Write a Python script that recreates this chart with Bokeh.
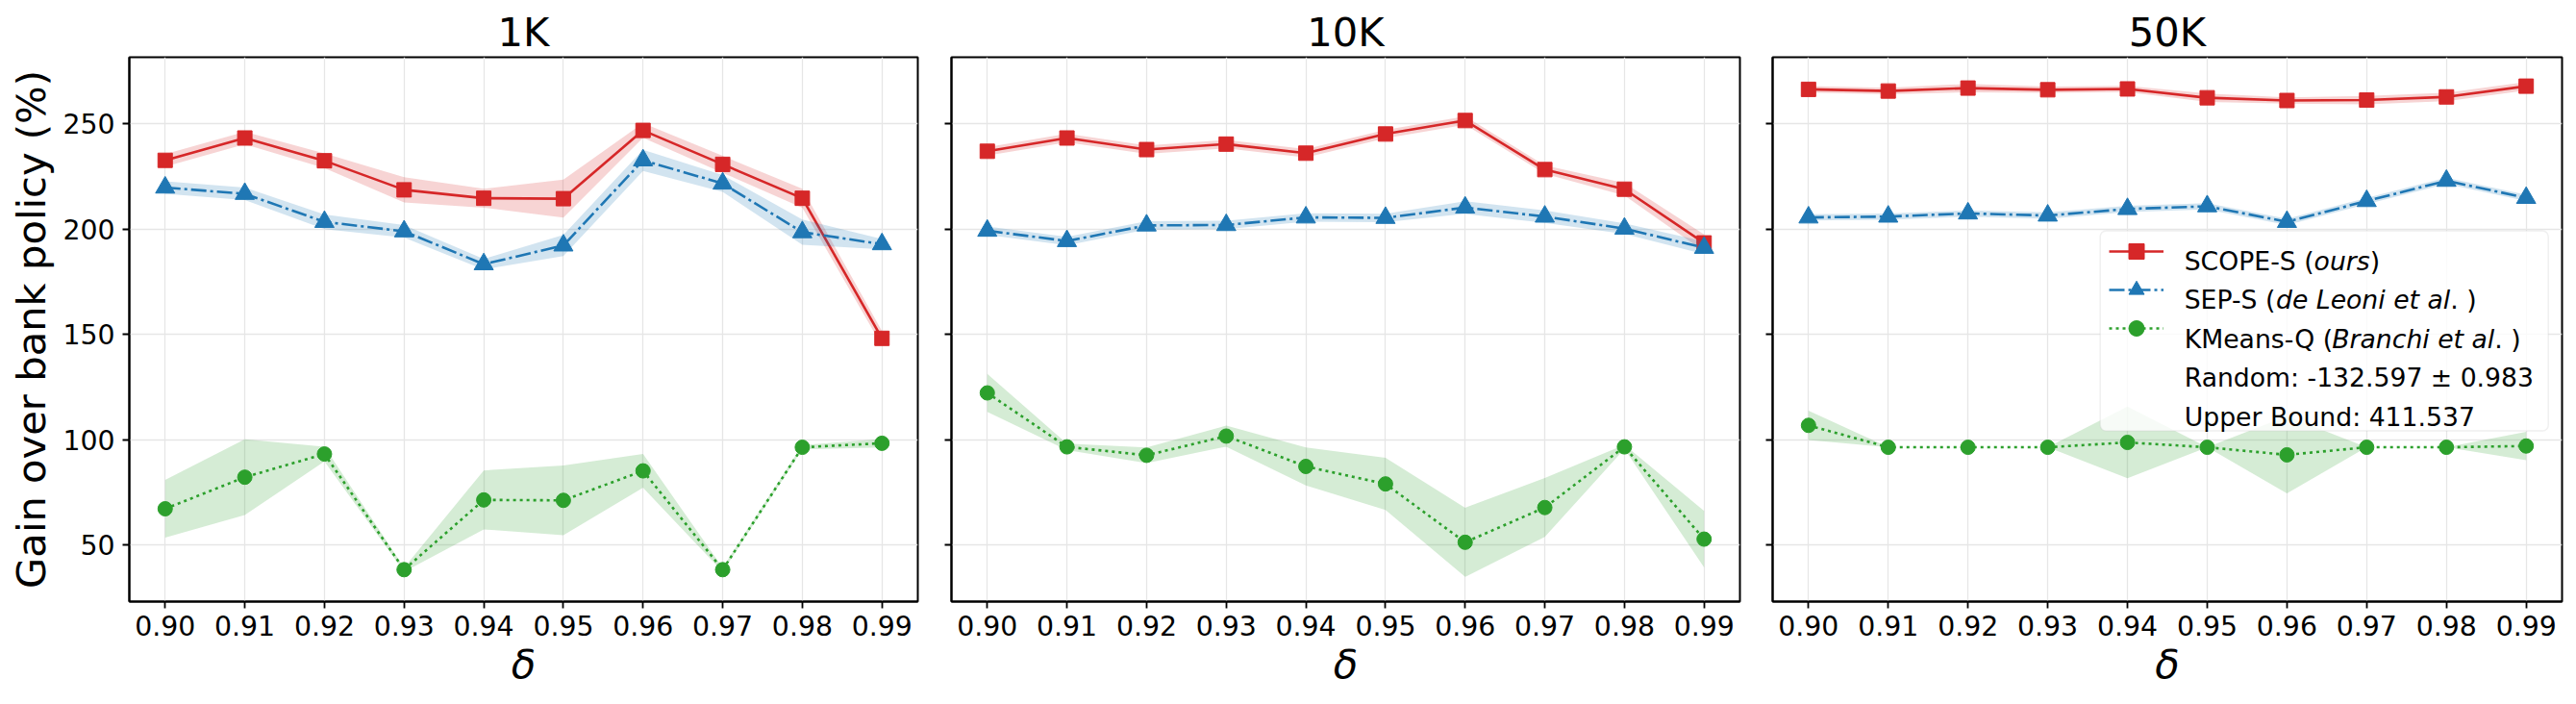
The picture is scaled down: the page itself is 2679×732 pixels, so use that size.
from bokeh.plotting import figure
from bokeh.layouts import row
from bokeh.models import (Range1d, FixedTicker, NumeralTickFormatter, Legend, LegendItem,
                          Label, BoxAnnotation, ColumnDataSource)
from bokeh.embed import file_html
from bokeh.resources import INLINE

# ---------------- data ----------------
delta = [0.90, 0.91, 0.92, 0.93, 0.94, 0.95, 0.96, 0.97, 0.98, 0.99]
panel_titles = ["1K", "10K", "50K"]
yticks = [50, 100, 150, 200, 250]

scope_1k = [232.6, 243.2, 232.4, 218.6, 214.6, 214.4, 246.8, 230.7, 214.6, 148.1]
scope_1k_err = [3.0, 3.0, 3.5, 6.0, 4.5, 9.0, 3.5, 4.0, 4.5, 3.5]
sep_1k = [219.7, 216.7, 203.4, 198.9, 183.3, 192.2, 232.6, 221.6, 198.5, 192.8]
sep_1k_err = [3.0, 3.0, 3.5, 3.0, 2.5, 5.0, 5.0, 4.0, 6.0, 2.5]
kmeans_1k = [67.2, 82.2, 93.2, 38.3, 71.4, 71.2, 85.2, 38.3, 96.4, 98.3]
kmeans_1k_err = [13.7, 18.0, 3.5, 1.0, 14.0, 16.6, 8.0, 1.0, 1.0, 2.0]

scope_10k = [236.9, 243.2, 237.7, 240.3, 236.0, 245.1, 251.5, 228.2, 218.9, 193.4]
scope_10k_err = [2.0, 2.0, 2.0, 2.0, 2.0, 2.0, 2.0, 2.0, 3.0, 4.0]
sep_10k = [199.2, 194.3, 201.7, 201.9, 205.5, 205.3, 210.2, 205.9, 200.2, 191.1]
sep_10k_err = [2.0, 2.0, 2.0, 2.0, 2.0, 2.0, 3.0, 3.0, 2.5, 3.0]
kmeans_10k = [122.2, 96.6, 92.6, 101.7, 87.3, 79.0, 51.3, 67.8, 96.6, 52.8]
kmeans_10k_err = [9.0, 1.5, 3.7, 5.0, 9.0, 12.4, 16.4, 14.0, 1.0, 13.4]

scope_50k = [266.3, 265.5, 266.9, 266.1, 266.5, 262.3, 261.0, 261.2, 262.7, 267.8]
scope_50k_err = [1.5, 1.5, 2.0, 1.5, 1.5, 2.0, 1.5, 2.0, 2.0, 2.0]
sep_50k = [205.5, 205.9, 207.4, 206.4, 209.5, 210.8, 203.4, 213.3, 222.9, 214.8]
sep_50k_err = [1.5, 1.5, 1.5, 1.5, 1.5, 1.5, 1.5, 1.5, 1.5, 1.5]
kmeans_50k = [106.8, 96.4, 96.4, 96.4, 98.7, 96.4, 92.8, 96.4, 96.4, 97.0]
kmeans_50k_err = [7.0, 0.0, 0.0, 0.0, 17.0, 0.0, 18.3, 0.0, 0.0, 6.7]

legend_rows = [
    [("SCOPE-S (", False), ("ours", True), (")", False)],
    [("SEP-S (", False), ("de Leoni et al", True), (". )", False)],
    [("KMeans-Q (", False), ("Branchi et al", True), (". )", False)],
    [("Random: -132.597 \u00b1 0.983", False)],
    [("Upper Bound: 411.537", False)],
]

panel_data = [
    [(scope_1k, scope_1k_err), (sep_1k, sep_1k_err), (kmeans_1k, kmeans_1k_err)],
    [(scope_10k, scope_10k_err), (sep_10k, sep_10k_err), (kmeans_10k, kmeans_10k_err)],
    [(scope_50k, scope_50k_err), (sep_50k, sep_50k_err), (kmeans_50k, kmeans_50k_err)],
]

# ---------------- style ----------------
FONT = "DejaVu Sans"
BIG = "41.67px"
series_style = [
    dict(color="#d62728", dash="solid", marker="square", size=15),
    dict(color="#1f77b4", dash="16 4 3 4", marker="triangle", size=20),
    dict(color="#2ca02c", dash="3 4", marker="circle", size=15),
]

# ranges like matplotlib autoscale (5 % margins)
all_lo = min(m - e for pd_ in panel_data for (ms, es) in pd_ for m, e in zip(ms, es))
all_hi = max(m + e for pd_ in panel_data for (ms, es) in pd_ for m, e in zip(ms, es))
ypad = 0.05 * (all_hi - all_lo)
xpad = 0.05 * (max(delta) - min(delta))

# DejaVu Sans advance widths (units / 2048)
W = {' ': 651, '(': 799, ')': 799, '-': 739, '.': 651, ':': 690, '\u00b1': 1716,
     'A': 1401, 'B': 1405, 'C': 1430, 'D': 1577, 'E': 1294, 'G': 1577, 'K': 1343, 'L': 1141,
     'M': 1767, 'O': 1612, 'P': 1235, 'Q': 1612, 'R': 1423, 'S': 1300, 'U': 1499,
     'a': 1255, 'b': 1300, 'c': 1126, 'd': 1300, 'e': 1260, 'h': 1298, 'i': 569, 'k': 1186,
     'l': 569, 'm': 1995, 'n': 1298, 'o': 1253, 'p': 1300, 'r': 842, 's': 1067, 't': 803,
     'u': 1298, 'v': 1212, 'y': 1212}
for d in "0123456789":
    W[d] = 1303


def text_w(s, px):
    return sum(W.get(ch, 1250) for ch in s) / 2048.0 * px


layout_specs = [
    dict(left=134, right=17, fw=820),
    dict(left=18, right=17, fw=820),
    dict(left=17, right=10, fw=821),
]

figs = []
for i, title in enumerate(panel_titles):
    spec = layout_specs[i]
    p = figure(frame_width=spec["fw"], frame_height=566,
               min_border_left=spec["left"], min_border_right=spec["right"],
               min_border_top=59, min_border_bottom=105,
               x_range=Range1d(min(delta) - xpad, max(delta) + xpad),
               y_range=Range1d(all_lo - ypad, all_hi + ypad),
               output_backend="svg", toolbar_location=None, title=title)
    p.background_fill_color = "white"
    p.border_fill_color = "white"
    p.outline_line_color = "black"
    p.outline_line_width = 2
    p.outline_line_alpha = 1.0

    p.title.text_font = FONT
    p.title.text_font_size = BIG
    p.title.text_font_style = "normal"
    p.title.text_color = "black"
    p.title.align = "center"
    p.title.standoff = 3

    p.xaxis.ticker = FixedTicker(ticks=delta)
    p.xaxis.formatter = NumeralTickFormatter(format="0.00")
    p.yaxis.ticker = FixedTicker(ticks=yticks)
    for ax in (p.xaxis[0], p.yaxis[0]):
        ax.axis_line_color = "black"
        ax.axis_line_width = 2
        ax.major_tick_line_color = "black"
        ax.major_tick_line_width = 1.8
        ax.major_tick_out = 7
        ax.major_tick_in = 0
        ax.minor_tick_line_color = None
        ax.major_label_text_font = FONT
        ax.major_label_text_font_size = "28.33px"
        ax.major_label_text_color = "black"
        ax.axis_label_text_font = FONT
        ax.axis_label_text_color = "black"
    p.xaxis.major_label_standoff = 7
    p.yaxis.major_label_standoff = 8
    p.xaxis.axis_label = "\u03b4"
    p.xaxis.axis_label_text_font_style = "italic"
    p.xaxis.axis_label_text_font_size = BIG
    p.xaxis.axis_label_standoff = 2
    if i == 0:
        p.yaxis.axis_label = "Gain over bank policy (%)"
        p.yaxis.axis_label_text_font_size = BIG
        p.yaxis.axis_label_text_font_style = "normal"
        p.yaxis.axis_label_standoff = 5
    else:
        p.yaxis.major_label_overrides = {t: "" for t in yticks}

    p.xgrid.grid_line_color = "#e6e6e6"
    p.ygrid.grid_line_color = "#e6e6e6"
    p.xgrid.grid_line_width = 1.3
    p.ygrid.grid_line_width = 1.3

    renderers = []
    for (means, errs), st in zip(panel_data[i], series_style):
        src = ColumnDataSource(dict(x=delta, y=means,
                                    lo=[m - e for m, e in zip(means, errs)],
                                    hi=[m + e for m, e in zip(means, errs)]))
        p.varea(x="x", y1="lo", y2="hi", source=src, fill_color=st["color"], fill_alpha=0.2)
        ln = p.line(x="x", y="y", source=src, line_color=st["color"], line_width=2.6,
                    line_dash=st["dash"])
        sc = p.scatter(x="x", y="y", source=src, marker=st["marker"], size=st["size"],
                       fill_color=st["color"], line_color=st["color"], line_width=1)
        renderers.append((ln, sc))

    if i == 2:
        # legend box (screen units relative to the frame)
        box = BoxAnnotation(left=340.7, right=806.7, top=385.5, bottom=177.5,
                            left_units="screen", right_units="screen",
                            top_units="screen", bottom_units="screen",
                            fill_color="white", fill_alpha=0.8,
                            line_color="#cccccc", line_width=1.5, border_radius=6)
        p.add_layout(box)
        leg = Legend(items=[LegendItem(label=" ", renderers=list(r)) for r in renderers],
                     location=(350, 264), glyph_width=57, glyph_height=40, spacing=0,
                     padding=0, margin=0, label_width=0, label_height=0, label_standoff=0,
                     label_text_font_size="1px", border_line_alpha=0,
                     background_fill_alpha=0)
        p.add_layout(leg)
        fs = 26.67
        x0 = 428.2
        row_centers = [364.2, 323.7, 283.2, 242.7, 202.2]
        for segs, yc in zip(legend_rows, row_centers):
            x = x0
            for txt, ital in segs:
                p.add_layout(Label(x=x, y=yc - 0.3645 * fs, x_units="screen", y_units="screen",
                                   text=txt, text_font=FONT, text_font_size=f"{fs}px",
                                   text_font_style="italic" if ital else "normal",
                                   text_align="left", text_baseline="alphabetic",
                                   text_color="black"))
                x += text_w(txt, fs)
    figs.append(p)

layout = row(*figs, spacing=0)
open("out.html", "w").write(file_html(layout, INLINE))
